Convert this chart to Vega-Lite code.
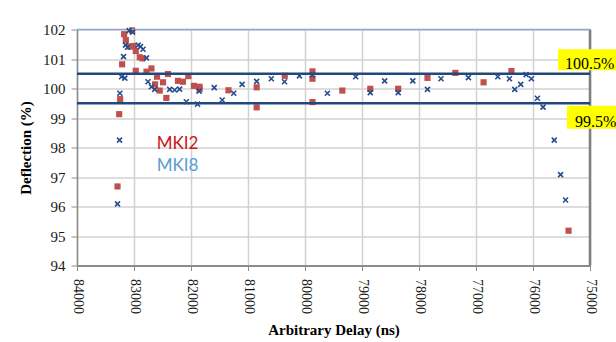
{
  "$schema": "https://vega.github.io/schema/vega-lite/v6.json",
  "width": 513,
  "height": 236,
  "autosize": {"type": "none"},
  "padding": {"left": 77, "top": 29.5, "right": 26, "bottom": 76.5},
  "background": "white",
  "config": {
    "view": {"stroke": null},
    "axis": {
      "labelFont": "Liberation Serif",
      "titleFont": "Liberation Serif",
      "labelColor": "#1A1A1A",
      "titleColor": "#000000",
      "gridColor": "#D2D2D2",
      "gridWidth": 1.5,
      "tickColor": "#8C8C8C",
      "domainColor": "#8C8C8C",
      "labelOverlap": false
    }
  },
  "datasets": {
    "mki2": [
      {"delay": 83033, "deflection": 101.97},
      {"delay": 83173, "deflection": 101.84},
      {"delay": 83143, "deflection": 101.64},
      {"delay": 83073, "deflection": 101.42},
      {"delay": 83016, "deflection": 101.44},
      {"delay": 82969, "deflection": 101.27},
      {"delay": 82899, "deflection": 101.06},
      {"delay": 82851, "deflection": 101.02},
      {"delay": 83208, "deflection": 100.82},
      {"delay": 82694, "deflection": 100.68},
      {"delay": 82969, "deflection": 100.6},
      {"delay": 82781, "deflection": 100.57},
      {"delay": 82596, "deflection": 100.4},
      {"delay": 82404, "deflection": 100.49},
      {"delay": 82491, "deflection": 100.21},
      {"delay": 82631, "deflection": 100.14},
      {"delay": 82549, "deflection": 99.93},
      {"delay": 82229, "deflection": 100.26},
      {"delay": 82142, "deflection": 100.23},
      {"delay": 82047, "deflection": 100.42},
      {"delay": 82432, "deflection": 99.68},
      {"delay": 81949, "deflection": 100.09},
      {"delay": 81850, "deflection": 100.06},
      {"delay": 81850, "deflection": 99.98},
      {"delay": 83243, "deflection": 99.64},
      {"delay": 83260, "deflection": 99.13},
      {"delay": 83289, "deflection": 96.68},
      {"delay": 81343, "deflection": 99.94},
      {"delay": 80848, "deflection": 100.04},
      {"delay": 80848, "deflection": 99.36},
      {"delay": 80355, "deflection": 100.43},
      {"delay": 79869, "deflection": 100.58},
      {"delay": 79869, "deflection": 100.33},
      {"delay": 79869, "deflection": 99.54},
      {"delay": 79345, "deflection": 99.93},
      {"delay": 78855, "deflection": 99.99},
      {"delay": 78365, "deflection": 99.99},
      {"delay": 77851, "deflection": 100.36},
      {"delay": 77362, "deflection": 100.53},
      {"delay": 76867, "deflection": 100.21},
      {"delay": 76378, "deflection": 100.59},
      {"delay": 75376, "deflection": 95.18}
    ],
    "mki8": [
      {"delay": 83086, "deflection": 101.96},
      {"delay": 83026, "deflection": 101.91},
      {"delay": 83149, "deflection": 101.47},
      {"delay": 83114, "deflection": 101.4},
      {"delay": 82928, "deflection": 101.47},
      {"delay": 82886, "deflection": 101.42},
      {"delay": 82841, "deflection": 101.33},
      {"delay": 83184, "deflection": 101.08},
      {"delay": 82781, "deflection": 101.04},
      {"delay": 83219, "deflection": 100.4},
      {"delay": 83161, "deflection": 100.35},
      {"delay": 82754, "deflection": 100.23},
      {"delay": 82694, "deflection": 100.06},
      {"delay": 82636, "deflection": 99.97},
      {"delay": 82374, "deflection": 99.97},
      {"delay": 82287, "deflection": 99.95},
      {"delay": 82200, "deflection": 99.98},
      {"delay": 83248, "deflection": 99.84},
      {"delay": 82082, "deflection": 99.55},
      {"delay": 81885, "deflection": 99.47},
      {"delay": 81858, "deflection": 99.91},
      {"delay": 81593, "deflection": 100.03},
      {"delay": 81453, "deflection": 99.61},
      {"delay": 81250, "deflection": 99.84},
      {"delay": 81104, "deflection": 100.14},
      {"delay": 80848, "deflection": 100.24},
      {"delay": 80591, "deflection": 100.33},
      {"delay": 80360, "deflection": 100.23},
      {"delay": 80098, "deflection": 100.43},
      {"delay": 79869, "deflection": 100.46},
      {"delay": 79607, "deflection": 99.84},
      {"delay": 79110, "deflection": 100.4},
      {"delay": 78855, "deflection": 99.86},
      {"delay": 78603, "deflection": 100.26},
      {"delay": 78365, "deflection": 99.86},
      {"delay": 78109, "deflection": 100.26},
      {"delay": 77851, "deflection": 99.97},
      {"delay": 77614, "deflection": 100.33},
      {"delay": 77133, "deflection": 100.37},
      {"delay": 76618, "deflection": 100.4},
      {"delay": 76413, "deflection": 100.33},
      {"delay": 76320, "deflection": 99.97},
      {"delay": 76215, "deflection": 100.14},
      {"delay": 76121, "deflection": 100.47},
      {"delay": 76029, "deflection": 100.33},
      {"delay": 75923, "deflection": 99.67},
      {"delay": 75824, "deflection": 99.37},
      {"delay": 75627, "deflection": 98.25},
      {"delay": 75516, "deflection": 97.08},
      {"delay": 75429, "deflection": 96.22},
      {"delay": 83254, "deflection": 98.25},
      {"delay": 83289, "deflection": 96.09}
    ],
    "limits": [
      {"limit": 100.5, "label": "100.5%"},
      {"limit": 99.5, "label": "99.5%"}
    ],
    "edges": [
      {"delay": 75000, "deflection": 102}
    ]
  },
  "layer": [
    {
      "data": {"name": "mki2"},
      "mark": {"type": "square", "size": 38, "color": "#C0504D", "opacity": 1},
      "encoding": {
        "x": {
          "field": "delay", "type": "quantitative",
          "scale": {"domain": [75000, 84000], "reverse": true, "nice": false, "zero": false},
          "axis": {
            "orient": "bottom",
            "title": "Arbitrary Delay (ns)",
            "values": [84000, 83000, 82000, 81000, 80000, 79000, 78000, 77000, 76000, 75000],
            "format": "d",
            "labelAngle": 90,
            "labelFontSize": 14,
            "labelPadding": 8,
            "tickSize": 5,
            "domainWidth": 2,
            "titleFontSize": 15,
            "titleFontWeight": "bold",
            "titlePadding": 9,
            "grid": true
          }
        },
        "y": {
          "field": "deflection", "type": "quantitative",
          "scale": {"domain": [94, 102], "nice": false, "zero": false},
          "axis": {"title": "Deflection (%)", "values": [94, 95, 96, 97, 98, 99, 100, 101, 102], "labelOverlap": false, "labelFontSize": 15, "labelPadding": 6, "tickSize": 6, "domainWidth": 1.5, "titleFontSize": 15, "titleFontWeight": "bold", "titlePadding": 9, "grid": true}
        }
      }
    },
    {
      "data": {"name": "edges"},
      "mark": {"type": "rule", "color": "#7F7F7F", "strokeWidth": 2.5},
      "encoding": {"x": {"field": "delay", "type": "quantitative"}}
    },
    {
      "data": {"name": "edges"},
      "mark": {"type": "rule", "color": "#8EA8CF", "strokeWidth": 1.5},
      "encoding": {
        "y": {"field": "deflection", "type": "quantitative",
          "axis": {"title": "Deflection (%)", "values": [94, 95, 96, 97, 98, 99, 100, 101, 102], "labelOverlap": false, "labelFontSize": 15, "labelPadding": 6, "tickSize": 6, "domainWidth": 1.5, "titleFontSize": 15, "titleFontWeight": "bold", "titlePadding": 9, "grid": true}}
      }
    },
    {
      "data": {"name": "limits"},
      "mark": {"type": "rule", "color": "#1F497D", "strokeWidth": 2.5},
      "encoding": {
        "y": {"field": "limit", "type": "quantitative",
          "axis": {"title": "Deflection (%)", "values": [94, 95, 96, 97, 98, 99, 100, 101, 102], "labelOverlap": false, "labelFontSize": 15, "labelPadding": 6, "tickSize": 6, "domainWidth": 1.5, "titleFontSize": 15, "titleFontWeight": "bold", "titlePadding": 9, "grid": true}}
      }
    },
    {
      "data": {"name": "mki8"},
      "mark": {"type": "point", "shape": "M-1,-1L1,1M-1,1L1,-1", "size": 25, "filled": false, "stroke": "#254D8C", "strokeWidth": 1.6, "opacity": 1},
      "encoding": {
        "x": {"field": "delay", "type": "quantitative"},
        "y": {"field": "deflection", "type": "quantitative",
          "axis": {"title": "Deflection (%)", "values": [94, 95, 96, 97, 98, 99, 100, 101, 102], "labelOverlap": false, "labelFontSize": 15, "labelPadding": 6, "tickSize": 6, "domainWidth": 1.5, "titleFontSize": 15, "titleFontWeight": "bold", "titlePadding": 9, "grid": true}}
      }
    },
    {
      "data": {"name": "limits"},
      "transform": [{"filter": "datum.limit > 100"}],
      "mark": {"type": "point", "shape": "M-1,-0.33H1V0.33H-1Z", "size": 4096, "filled": true, "color": "#FFFF00", "opacity": 1, "xOffset": 0, "yOffset": -14},
      "encoding": {
        "x": {"datum": 75000, "type": "quantitative"},
        "y": {"field": "limit", "type": "quantitative",
          "axis": {"title": "Deflection (%)", "values": [94, 95, 96, 97, 98, 99, 100, 101, 102], "labelOverlap": false, "labelFontSize": 15, "labelPadding": 6, "tickSize": 6, "domainWidth": 1.5, "titleFontSize": 15, "titleFontWeight": "bold", "titlePadding": 9, "grid": true}}
      }
    },
    {
      "data": {"name": "limits"},
      "transform": [{"filter": "datum.limit < 100"}],
      "mark": {"type": "point", "shape": "M-1,-0.42H1V0.42H-1Z", "size": 3025, "filled": true, "color": "#FFFF00", "opacity": 1, "xOffset": 4.5, "yOffset": 14},
      "encoding": {
        "x": {"datum": 75000, "type": "quantitative"},
        "y": {"field": "limit", "type": "quantitative",
          "axis": {"title": "Deflection (%)", "values": [94, 95, 96, 97, 98, 99, 100, 101, 102], "labelOverlap": false, "labelFontSize": 15, "labelPadding": 6, "tickSize": 6, "domainWidth": 1.5, "titleFontSize": 15, "titleFontWeight": "bold", "titlePadding": 9, "grid": true}}
      }
    },
    {
      "data": {"name": "limits"},
      "transform": [{"filter": "datum.limit > 100"}],
      "mark": {"type": "text", "font": "Liberation Serif", "fontSize": 16, "color": "#000000", "align": "left", "baseline": "alphabetic", "dx": -25, "dy": -4.5},
      "encoding": {
        "x": {"datum": 75000, "type": "quantitative"},
        "y": {"field": "limit", "type": "quantitative",
          "axis": {"title": "Deflection (%)", "values": [94, 95, 96, 97, 98, 99, 100, 101, 102], "labelOverlap": false, "labelFontSize": 15, "labelPadding": 6, "tickSize": 6, "domainWidth": 1.5, "titleFontSize": 15, "titleFontWeight": "bold", "titlePadding": 9, "grid": true}},
        "text": {"field": "label"}
      }
    },
    {
      "data": {"name": "limits"},
      "transform": [{"filter": "datum.limit < 100"}],
      "mark": {"type": "text", "font": "Liberation Serif", "fontSize": 16, "color": "#000000", "align": "left", "baseline": "alphabetic", "dx": -15, "dy": 23.5},
      "encoding": {
        "x": {"datum": 75000, "type": "quantitative"},
        "y": {"field": "limit", "type": "quantitative",
          "axis": {"title": "Deflection (%)", "values": [94, 95, 96, 97, 98, 99, 100, 101, 102], "labelOverlap": false, "labelFontSize": 15, "labelPadding": 6, "tickSize": 6, "domainWidth": 1.5, "titleFontSize": 15, "titleFontWeight": "bold", "titlePadding": 9, "grid": true}},
        "text": {"field": "label"}
      }
    },
    {
      "data": {"values": [{"series": "MKI2"}]},
      "mark": {"type": "text", "font": "Lato", "fontSize": 17, "color": "#CC1414", "align": "left", "baseline": "alphabetic"},
      "encoding": {
        "x": {"datum": 82600, "type": "quantitative"},
        "y": {"datum": 97.95, "type": "quantitative",
          "axis": {"title": "Deflection (%)", "values": [94, 95, 96, 97, 98, 99, 100, 101, 102], "labelOverlap": false, "labelFontSize": 15, "labelPadding": 6, "tickSize": 6, "domainWidth": 1.5, "titleFontSize": 15, "titleFontWeight": "bold", "titlePadding": 9, "grid": true}},
        "text": {"field": "series"}
      }
    },
    {
      "data": {"values": [{"series": "MKI8"}]},
      "mark": {"type": "text", "font": "Lato", "fontSize": 17, "color": "#5B9BD5", "align": "left", "baseline": "alphabetic"},
      "encoding": {
        "x": {"datum": 82600, "type": "quantitative"},
        "y": {"datum": 97.2, "type": "quantitative",
          "axis": {"title": "Deflection (%)", "values": [94, 95, 96, 97, 98, 99, 100, 101, 102], "labelOverlap": false, "labelFontSize": 15, "labelPadding": 6, "tickSize": 6, "domainWidth": 1.5, "titleFontSize": 15, "titleFontWeight": "bold", "titlePadding": 9, "grid": true}},
        "text": {"field": "series"}
      }
    }
  ]
}
